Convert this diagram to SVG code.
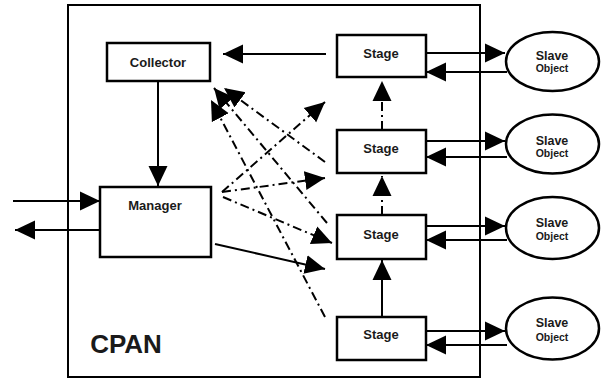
<svg xmlns="http://www.w3.org/2000/svg" width="602" height="380" viewBox="0 0 602 380">
  <style>
    .box { fill: #fff; stroke: #000; stroke-width: 2.5; }
    .frame { fill: none; stroke: #000; stroke-width: 2; }
    .lbl { font-family: "Liberation Sans", Arial, sans-serif; font-weight: bold; fill: #1a1a1a; text-anchor: middle; }
    .solid { fill: none; stroke: #000; stroke-width: 2; marker-end: url(#head); }
    .dashed { fill: none; stroke: #000; stroke-width: 2; stroke-dasharray: 9 4 2 4; marker-end: url(#head); }
  </style>
  <defs>
    <marker id="head" viewBox="0 0 20 20" refX="20" refY="10" markerWidth="20" markerHeight="20" markerUnits="userSpaceOnUse" orient="auto">
      <path d="M0,0.5 L20,10 L0,19.5 z" fill="#000" stroke="none"/>
    </marker>
  </defs>
  <rect width="602" height="380" fill="#fff"/>

  <!-- CPAN container -->
  <g id="cpan">
    <rect class="frame" x="68" y="5" width="412" height="372"/>
    <text class="lbl" x="126" y="353" font-size="26">CPAN</text>
  </g>

  <!-- connectors -->
  <g id="connectors">
    <!-- external I/O of the manager -->
    <line class="solid" x1="13" y1="201" x2="100" y2="201"/>
    <line class="solid" x1="100" y1="230" x2="15" y2="230"/>
    <!-- collector feeds manager -->
    <line class="solid" x1="158" y1="81" x2="158" y2="186"/>
    <!-- top stage reports to collector -->
    <line class="solid" x1="326" y1="54" x2="223" y2="54"/>
    <!-- manager to stages -->
    <line class="solid" x1="215" y1="244" x2="325" y2="269"/>
    <line class="dashed" x1="222" y1="192" x2="325" y2="102"/>
    <line class="dashed" x1="222" y1="192" x2="325" y2="178"/>
    <line class="dashed" x1="223" y1="197" x2="332" y2="243"/>
    <!-- stages to collector -->
    <line class="dashed" x1="325" y1="162" x2="224" y2="88"/>
    <line class="dashed" x1="327" y1="223" x2="214" y2="88"/>
    <line class="dashed" x1="325" y1="317" x2="211" y2="100"/>
    <!-- stage chain -->
    <line class="dashed" x1="382" y1="130" x2="382" y2="81"/>
    <line class="dashed" x1="382" y1="215" x2="382" y2="176"/>
    <line class="solid" x1="382" y1="317" x2="382" y2="260"/>
    <!-- stage / slave object exchange -->
    <line class="solid" x1="426" y1="53" x2="505" y2="53"/>
    <line class="solid" x1="507" y1="72" x2="426" y2="72"/>
    <line class="solid" x1="426" y1="141" x2="505" y2="141"/>
    <line class="solid" x1="507" y1="157" x2="426" y2="157"/>
    <line class="solid" x1="426" y1="226" x2="505" y2="226"/>
    <line class="solid" x1="507" y1="240" x2="426" y2="240"/>
    <line class="solid" x1="426" y1="331" x2="505" y2="331"/>
    <line class="solid" x1="507" y1="345" x2="426" y2="345"/>
  </g>

  <g id="collector">
    <rect class="box" x="107" y="43" width="103" height="38"/>
    <text class="lbl" x="158" y="67" font-size="13">Collector</text>
  </g>
  <g id="manager">
    <rect class="box" x="100" y="187" width="111" height="70"/>
    <text class="lbl" x="155" y="210" font-size="13">Manager</text>
  </g>

  <g id="stage1">
    <rect class="box" x="337" y="35" width="89" height="42"/>
    <text class="lbl" x="381" y="58" font-size="13">Stage</text>
  </g>
  <g id="stage2">
    <rect class="box" x="337" y="130" width="89" height="43"/>
    <text class="lbl" x="381" y="153" font-size="13">Stage</text>
  </g>
  <g id="stage3">
    <rect class="box" x="337" y="215" width="89" height="44"/>
    <text class="lbl" x="381" y="239" font-size="13">Stage</text>
  </g>
  <g id="stage4">
    <rect class="box" x="337" y="317" width="89" height="43"/>
    <text class="lbl" x="381" y="339" font-size="13">Stage</text>
  </g>

  <g id="slave1">
    <ellipse class="box" cx="552.5" cy="61.5" rx="46.5" ry="29.5"/>
    <text class="lbl" x="552" y="59.5" font-size="12.5">Slave</text>
    <text class="lbl" x="552" y="72" font-size="10.5">Object</text>
  </g>
  <g id="slave2">
    <ellipse class="box" cx="552.5" cy="144" rx="46.5" ry="29.5"/>
    <text class="lbl" x="552" y="145" font-size="12.5">Slave</text>
    <text class="lbl" x="552" y="157" font-size="10.5">Object</text>
  </g>
  <g id="slave3">
    <ellipse class="box" cx="552.5" cy="228" rx="46.5" ry="31"/>
    <text class="lbl" x="552" y="226.7" font-size="12.5">Slave</text>
    <text class="lbl" x="552" y="240" font-size="10.5">Object</text>
  </g>
  <g id="slave4">
    <ellipse class="box" cx="552.5" cy="328.5" rx="46.5" ry="31"/>
    <text class="lbl" x="552" y="327.3" font-size="12.5">Slave</text>
    <text class="lbl" x="552" y="340.7" font-size="10.5">Object</text>
  </g>
</svg>
